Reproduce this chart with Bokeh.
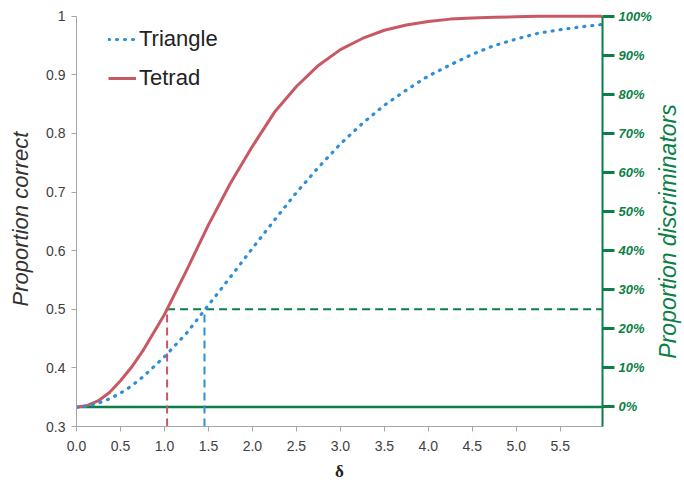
from math import pi
from bokeh.plotting import figure
from bokeh.layouts import row
from bokeh.models import (Range1d, LinearAxis, FixedTicker, NumeralTickFormatter,
                          Legend, LegendItem)
from bokeh.core.properties import value
from bokeh.embed import file_html
from bokeh.resources import INLINE

# ---- data ----
delta = [0.0, 0.125, 0.25, 0.375, 0.5, 0.625, 0.75, 1.0, 1.25, 1.5, 1.75, 2.0, 2.25,
         2.5, 2.75, 3.0, 3.25, 3.5, 3.75, 4.0, 4.25, 4.5, 4.75, 5.0, 5.25, 5.5,
         5.75, 5.98]
triangle = [0.333, 0.335, 0.340, 0.347, 0.357, 0.369, 0.384, 0.419, 0.459, 0.507,
            0.555, 0.604, 0.652, 0.699, 0.742, 0.782, 0.817, 0.848, 0.874, 0.898,
            0.917, 0.935, 0.950, 0.961, 0.971, 0.977, 0.982, 0.986]
tetrad = [0.333, 0.336, 0.344, 0.358, 0.378, 0.401, 0.428, 0.491, 0.566, 0.644,
          0.715, 0.778, 0.836, 0.880, 0.916, 0.943, 0.962, 0.976, 0.985, 0.991,
          0.995, 0.997, 0.998, 0.999, 1.0, 1.0, 1.0, 1.0]
x_ticks = [0.0, 0.5, 1.0, 1.5, 2.0, 2.5, 3.0, 3.5, 4.0, 4.5, 5.0, 5.5]
y_ticks = [0.3, 0.4, 0.5, 0.6, 0.7, 0.8, 0.9, 1.0]
pct_ticks = [0.0, 0.1, 0.2, 0.3, 0.4, 0.5, 0.6, 0.7, 0.8, 0.9, 1.0]
chance = 1.0 / 3.0          # 0% discriminators
pc_threshold = 0.5          # 25% discriminators
tetrad_d50 = 1.03
triangle_d50 = 1.455
x_max = 5.98
y_min_axis = 0.3
right_title = "Proportion discriminators"

RED = "#C85863"
BLUE = "#2E8FD8"
GREEN = "#0B7F46"
GRAY = "#a6a6a6"
TXT = "#404040"

y_lo, y_hi = y_min_axis, 1.008

p = figure(width=656, height=483, x_range=Range1d(0, x_max), y_range=Range1d(y_lo, y_hi),
           output_backend="svg", toolbar_location=None,
           min_border_left=76, min_border_right=54, min_border_top=11, min_border_bottom=56)
p.grid.visible = False
p.outline_line_color = None
p.background_fill_color = "white"
p.border_fill_color = "white"

# x axis
xa = p.xaxis[0]
xa.ticker = FixedTicker(ticks=x_ticks)
xa.formatter = NumeralTickFormatter(format="0.0")
xa.axis_line_color = GRAY
xa.major_tick_line_color = GRAY
xa.major_tick_out = 5
xa.major_tick_in = 0
xa.minor_tick_line_color = None
xa.major_label_text_font = "Liberation Sans"
xa.major_label_text_font_size = "14px"
xa.major_label_text_color = TXT
xa.major_label_standoff = 9
xa.axis_label = "δ"
xa.axis_label_text_font = "Liberation Serif"
xa.axis_label_text_font_style = "bold"
xa.axis_label_text_font_size = "17px"
xa.axis_label_text_color = "#222222"
xa.axis_label_standoff = 8

# left axis
ya = p.yaxis[0]
ya.bounds = (y_min_axis, 1.0)
ya.ticker = FixedTicker(ticks=y_ticks)
ya.major_label_overrides = {1.0: "1"}
ya.axis_line_color = GRAY
ya.major_tick_line_color = GRAY
ya.major_tick_out = 5
ya.major_tick_in = 0
ya.minor_tick_line_color = None
ya.major_label_text_font = "Liberation Sans"
ya.major_label_text_font_size = "14px"
ya.major_label_text_color = TXT
ya.major_label_standoff = 6
ya.axis_label = "Proportion correct"
ya.axis_label_text_font = "Liberation Sans"
ya.axis_label_text_font_style = "italic"
ya.axis_label_text_font_size = "22px"
ya.axis_label_text_color = "#333333"
ya.axis_label_standoff = 10

# right axis: proportion of discriminators
p_lo = (y_lo - chance) / (1 - chance)
p_hi = (y_hi - chance) / (1 - chance)
p.extra_y_ranges = {"pct": Range1d(p_lo, p_hi)}
ra = LinearAxis(y_range_name="pct", ticker=FixedTicker(ticks=pct_ticks),
                formatter=NumeralTickFormatter(format="0%"), bounds=(p_lo, 1.0))
ra.axis_line_color = GREEN
ra.axis_line_width = 2
ra.major_tick_line_color = GREEN
ra.major_tick_line_width = 3
ra.major_tick_out = 12
ra.major_tick_in = 0
ra.minor_tick_line_color = None
ra.major_label_text_font = "Liberation Sans"
ra.major_label_text_font_style = "bold italic"
ra.major_label_text_font_size = "13px"
ra.major_label_text_color = GREEN
ra.major_label_standoff = 4
p.add_layout(ra, "right")

# guide lines
p.line([0, x_max], [chance, chance], line_color=GREEN, line_width=2.5)
p.line([tetrad_d50, x_max], [pc_threshold, pc_threshold], line_color=GREEN,
       line_width=2, line_dash="8 5")
p.line([tetrad_d50, tetrad_d50], [y_min_axis, pc_threshold], line_color=RED,
       line_width=2, line_dash="8 5")
p.line([triangle_d50, triangle_d50], [y_min_axis, pc_threshold], line_color=BLUE,
       line_width=2, line_dash="8 5")

# curves
tet_r = p.line(delta, tetrad, line_color=RED, line_width=3, line_join="round")
tri_r = p.line(delta, triangle, line_color=BLUE, line_width=3.2, line_dash="1 7",
               line_cap="round")

legend = Legend(items=[LegendItem(label="Triangle", renderers=[tri_r]),
                       LegendItem(label="Tetrad", renderers=[tet_r])],
                location=(32, 335))
legend.label_text_font = "Liberation Sans"
legend.label_text_font_size = "22px"
legend.label_text_color = "#222222"
legend.glyph_width = 28
legend.glyph_height = 24
legend.label_height = 24
legend.spacing = 13
legend.padding = 0
legend.margin = 0
legend.label_standoff = 3
legend.border_line_color = None
legend.background_fill_alpha = 0
p.add_layout(legend)

# right-hand title, reading bottom-to-top, in a narrow strip next to the chart
t = figure(width=28, height=483, x_range=Range1d(0, 1), y_range=Range1d(0, 1),
           output_backend="svg", toolbar_location=None, x_axis_location=None,
           y_axis_location=None, min_border=0)
t.grid.visible = False
t.outline_line_color = None
t.text(x=[0.4], y=[0.470], text=[right_title], angle=pi / 2,
       text_font=value("Liberation Sans"), text_font_style="italic",
       text_font_size="23px", text_color=GREEN, text_align="center",
       text_baseline="middle")

layout = row(p, t)
open("out.html", "w").write(file_html(layout, INLINE))
